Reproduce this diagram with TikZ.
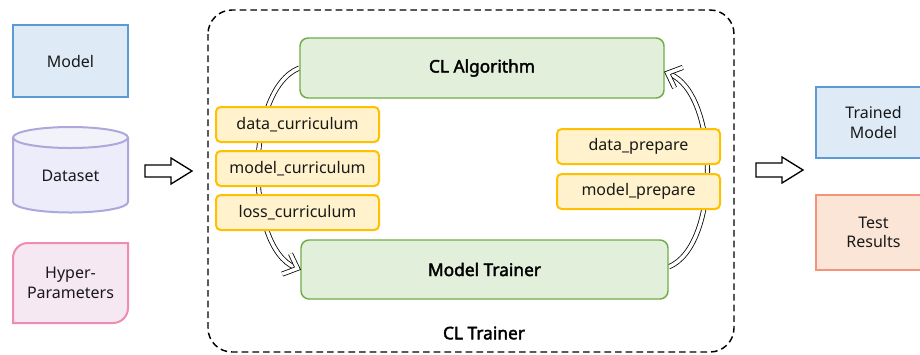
\documentclass[tikz,border=0pt]{standalone}
\usepackage{fontspec}
\setmainfont{Noto Sans}[AutoFakeBold=2.2]
\usetikzlibrary{arrows.meta,backgrounds}
\definecolor{blueF}{HTML}{DEEBF7}
\definecolor{blueD}{HTML}{5B9BD5}
\definecolor{lavF}{HTML}{ECECFA}
\definecolor{lavD}{HTML}{ADA8DC}
\definecolor{pinkF}{HTML}{F6E8F3}
\definecolor{pinkD}{HTML}{F08CB2}
\definecolor{greenF}{HTML}{E2EFDA}
\definecolor{greenD}{HTML}{70AD47}
\definecolor{yelF}{HTML}{FFF2CC}
\definecolor{yelD}{HTML}{FFC000}
\definecolor{salF}{HTML}{FBE5D6}
\definecolor{salD}{HTML}{F4937A}
\tikzset{
  txt/.style={font=\fontsize{12}{14.5}\selectfont, text=black!90, align=center, inner sep=0pt},
  bluebox/.style={txt, draw=blueD, fill=blueF, line width=1.5pt, minimum width=115*0.75pt},
  greenbox/.style={draw=greenD, fill=greenF, line width=1.1pt, rounded corners=6pt,
     font=\fontsize{13}{15}\selectfont\bfseries, minimum height=60*0.75pt, inner sep=0pt},
  yelbox/.style={txt, draw=yelD, fill=yelF, line width=1.5pt, rounded corners=3.5pt,
     minimum width=163*0.75pt, minimum height=35*0.75pt},
  dblline/.style={double, double distance=2.6pt, line width=0.6pt, line cap=butt},
  chev/.style={dblline, line join=miter},
  blockarrow/.style={draw=black, fill=white, line width=1pt, line join=miter},
}
\begin{document}
\begin{tikzpicture}[x=0.75pt,y=0.75pt]
\useasboundingbox (0,0) rectangle (920,-354);
\clip (0,0) rectangle (920,-354);
% CL Trainer container
\draw[line width=1.1pt, dash pattern=on 5pt off 3pt, rounded corners=18pt] (208,-10) rectangle (734,-352);
\node[font=\fontsize{13}{15}\selectfont\bfseries] (clt) at (484,-333) {CL Trainer};
% inputs
\node[bluebox, minimum height=72*0.75pt] (model) at (70.5,-61) {Model};
% dataset cylinder
\fill[lavF] (13,-137.5) -- (13,-202) arc[start angle=180,end angle=360,x radius=57.5,y radius=10.5] -- (128,-137.5) -- cycle;
\draw[lavD, line width=1.5pt] (13,-137.5) -- (13,-202) arc[start angle=180,end angle=360,x radius=57.5,y radius=10.5] -- (128,-137.5);
\draw[lavD, line width=1.5pt, fill=lavF!70!white] (70.5,-137.5) ellipse[x radius=57.5, y radius=10.5];
\node[txt] (dataset) at (70.5,-176) {Dataset};
% hyper-parameters
\draw[pinkD, fill=pinkF, line width=1.5pt] (13,-323) -- (13,-258) arc[start angle=180,end angle=90,radius=15] -- (128,-243) -- (128,-308) arc[start angle=0,end angle=-90,radius=15] -- cycle;
\node[txt] (hyper) at (70.5,-283) {Hyper-\\Parameters};
% block arrows
\draw[blockarrow] (145,-165) -- (171,-165) -- (171,-158) -- (192,-171) -- (171,-184) -- (171,-177) -- (145,-177) -- cycle;
\draw[blockarrow] (756,-163) -- (782,-163) -- (782,-157) -- (803,-170) -- (782,-183) -- (782,-177) -- (756,-177) -- cycle;
% outputs
\node[bluebox, minimum height=71*0.75pt] (trained) at (873.5,-122.5) {Trained\\Model};
\node[txt, draw=salD, fill=salF, line width=1.5pt, minimum width=115*0.75pt, minimum height=75*0.75pt] (test) at (873.5,-232.5) {Test\\Results};
% main nodes
\node[greenbox, minimum width=364*0.75pt] (cla) at (482,-68) {CL Algorithm};
\node[greenbox, minimum width=367*0.75pt, minimum height=59*0.75pt] (mt) at (484.5,-269.5) {Model Trainer};
\coordinate (claE) at ([yshift=-3pt]cla.east);
\coordinate (mtE) at ([yshift=2pt]mt.east);
\begin{scope}[on background layer]
\draw[dblline, shorten >=4pt] (cla.west) .. controls +(-55,-22) and +(-55,22) .. (mt.west);
\draw[dblline, shorten >=4pt] (mtE) .. controls +(52,21) and +(55,-22) .. (claE);
\end{scope}
% hollow arrowheads
\begin{scope}[shift={(mt.west)}, rotate=-22]
\draw[chev] (-15,11) -- (-3,0) -- (-15,-11);
\end{scope}
\begin{scope}[shift={(claE)}, rotate=158]
\draw[chev] (-15,11) -- (-3,0) -- (-15,-11);
\end{scope}
\node[yelbox] (dc) at (297.5,-124.5) {data\_curriculum};
\node[yelbox] (mc) at (297.5,-168.5) {model\_curriculum};
\node[yelbox] (lc) at (297.5,-212.5) {loss\_curriculum};
\node[yelbox] (dp) at (638.5,-146.5) {data\_prepare};
\node[yelbox] (mp) at (638.5,-191.5) {model\_prepare};
\end{tikzpicture}
\end{document}
